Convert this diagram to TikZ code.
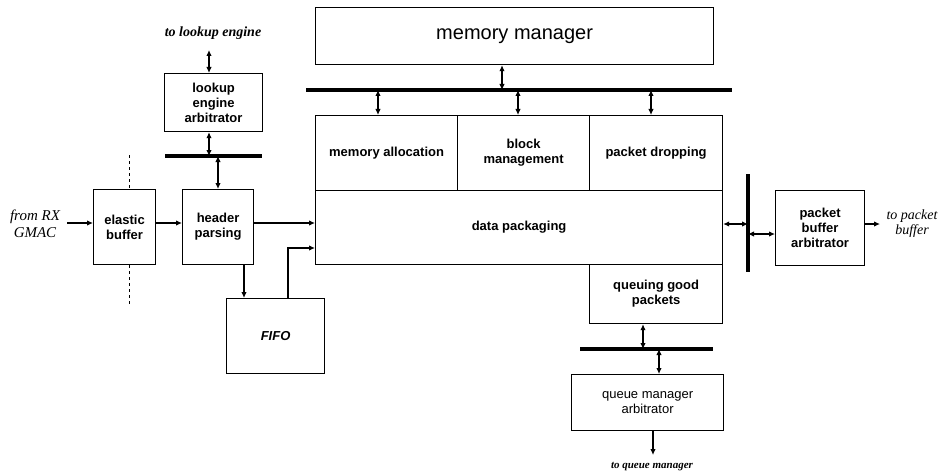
\documentclass[tikz,border=0pt]{standalone}
\usepackage{fontspec}
\setmainfont{Liberation Serif}
\setsansfont{Liberation Sans}
\usetikzlibrary{arrows.meta}
\begin{document}
\begin{tikzpicture}[x=1pt,y=-1pt,
  box/.style={draw,line width=1.2pt,anchor=north west,inner sep=0pt,align=center,
    font=\sffamily\bfseries\fontsize{13}{15}\selectfont},
  bus/.style={line width=3.5pt},
  dbl/.style={line width=1.1pt,{Latex[length=6pt,width=5.5pt]}-{Latex[length=6pt,width=5.5pt]}},
  one/.style={line width=1.1pt,-{Latex[length=6pt,width=5.5pt]}},
  lbl/.style={font=\itshape\fontsize{15}{17}\selectfont,align=center,inner sep=0pt}]
\useasboundingbox (0,0) rectangle (942,476);
% boxes
\node[box,minimum width=98pt,minimum height=58pt] (lea) at (164,73) {lookup\\engine\\arbitrator};
\node[box,minimum width=62pt,minimum height=75pt] (eb) at (93,189) {elastic\\buffer};
\node[box,minimum width=71pt,minimum height=75pt] (hp) at (182,189) {header\\parsing};
\node[box,minimum width=98pt,minimum height=75pt,font=\sffamily\bfseries\itshape\fontsize{13}{15}\selectfont] (fifo) at (226,298) {FIFO};
\node[box,minimum width=398pt,minimum height=57pt,font=\sffamily\fontsize{20}{24}\selectfont] (mm) at (315,7) {memory manager};
\node[box,minimum width=142pt,minimum height=75pt] (ma) at (315,115) {memory allocation};
\node[box,minimum width=132pt,minimum height=75pt] (bm) at (457,115) {block\\management};
\node[box,minimum width=133pt,minimum height=75pt] (pd) at (589,115) {packet dropping};
\node[box,minimum width=407pt,minimum height=74pt] (dp) at (315,190) {data packaging};
\node[box,minimum width=133pt,minimum height=59pt] (qgp) at (589,264) {queuing good\\packets};
\node[box,minimum width=152pt,minimum height=56pt,font=\sffamily\fontsize{13}{15}\selectfont] (qma) at (571,374) {queue manager\\arbitrator};
\node[box,minimum width=89pt,minimum height=75pt] (pba) at (775,190) {packet\\buffer\\arbitrator};
% labels
\node[lbl,font=\bfseries\itshape\fontsize{14}{15}\selectfont] (tle) at (213,33) {to lookup engine};
\node[lbl] (rx) at (35,224) {from RX\\GMAC};
\node[lbl,font=\itshape\fontsize{14}{15}\selectfont] (tpb) at (912,224) {to packet\\buffer};
\node[lbl,font=\bfseries\itshape\fontsize{11}{13}\selectfont] (tqm) at (652,467) {to queue manager};
% buses
\coordinate (lbA) at (165,156); \coordinate (lbB) at (262,156);
\coordinate (mbA) at (306,90); \coordinate (mbB) at (732,90);
\coordinate (vbA) at (748,174); \coordinate (vbB) at (748,272);
\coordinate (qbA) at (580,349); \coordinate (qbB) at (713,349);
\draw[bus] (lbA) -- (lbB);
\draw[bus] (mbA) -- (mbB);
\draw[bus] (vbA) -- (vbB);
\draw[bus] (qbA) -- (qbB);
% dashed boundary
\draw[dashed,line width=0.6pt] (129,155) -- (eb.north -| 129,0);
\draw[dashed,line width=0.6pt] (eb.south -| 129,0) -- (129,307);
% lookup connections
\coordinate (t1) at (209,50);
\draw[dbl] (t1) -- (lea.north -| t1);
\draw[dbl] (lea.south -| t1) -- (t1 |- lbA);
\coordinate (t2) at (218,156);
\draw[dbl] (t2) -- (hp.north -| t2);
% data path
\coordinate (inA) at (67,223);
\draw[one] (inA) -- (eb.west |- inA);
\draw[one] (eb.east |- inA) -- (hp.west |- inA);
\draw[one] (hp.east |- inA) -- (dp.west |- inA);
\coordinate (f1) at (244,264);
\draw[one] (hp.south -| f1) -- (fifo.north -| f1);
\coordinate (f2) at (288,248);
\draw[one] (fifo.north -| f2) -- (f2) -- (dp.west |- f2);
% memory manager connections
\coordinate (m0) at (502,90);
\draw[dbl] (mm.south -| m0) -- (m0);
\foreach \xx/\nn in {378/ma,518/bm,651/pd}{
  \draw[dbl] (\xx,90) -- (\nn.north -| \xx,0);
}
% packet buffer side
\coordinate (p1) at (748,224);
\draw[dbl] (dp.east |- p1) -- (p1);
\coordinate (p2) at (748,234);
\draw[dbl] (p2) -- (pba.west |- p2);
\coordinate (p3) at (880,224);
\draw[one] (pba.east |- p3) -- (p3);
% queue connections
\coordinate (q1) at (643,349);
\draw[dbl] (qgp.south -| q1) -- (q1);
\coordinate (q2) at (659,349);
\draw[dbl] (q2) -- (qma.north -| q2);
\coordinate (q3) at (653,455);
\draw[one] (qma.south -| q3) -- (q3);
\end{tikzpicture}
\end{document}
